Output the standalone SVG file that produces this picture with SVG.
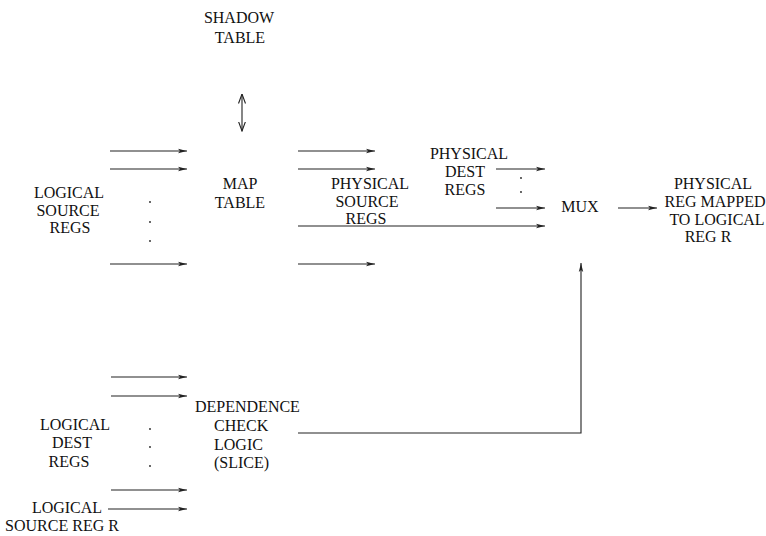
<svg xmlns="http://www.w3.org/2000/svg" width="766" height="536" viewBox="0 0 766 536">
  <style>
    text { font-family: "Liberation Serif", "Times New Roman", serif; font-size: 16px; fill: #111; }
    .c { text-anchor: middle; }
    .s { text-anchor: start; }
    .w { stroke: #222; stroke-width: 1.1; fill: none; }
    .dot { fill: #222; }
  </style>
  <defs>
    <marker id="ah" viewBox="0 0 9 6" refX="9" refY="3" markerWidth="9" markerHeight="6" orient="auto" markerUnits="userSpaceOnUse">
      <path d="M0,0.8 L9,3 L0,5.2 L2,3 z" fill="#222"/>
    </marker>
    <marker id="oh" viewBox="0 0 10 8" refX="9.5" refY="4" markerWidth="10" markerHeight="8" orient="auto-start-reverse" markerUnits="userSpaceOnUse">
      <path d="M0,0.5 L9.5,4 L0,7.5" fill="none" stroke="#222" stroke-width="1.1"/>
    </marker>
  </defs>

  <rect width="766" height="536" fill="#fff"/>

  <g id="shadow-table">
    <text class="c" x="239" y="23">SHADOW</text>
    <text class="c" x="240" y="43">TABLE</text>
  </g>

  <g id="logical-source-regs">
    <text class="c" x="69" y="198">LOGICAL</text>
    <text class="c" x="68" y="216">SOURCE</text>
    <text class="c" x="70" y="233">REGS</text>
    <circle class="dot" cx="150" cy="202" r="0.9"/>
    <circle class="dot" cx="150" cy="222" r="0.9"/>
    <circle class="dot" cx="150" cy="241" r="0.9"/>
  </g>

  <g id="map-table">
    <text class="c" x="240" y="189">MAP</text>
    <text class="c" x="240" y="208">TABLE</text>
  </g>

  <g id="physical-source-regs">
    <text class="c" x="370" y="189">PHYSICAL</text>
    <text class="c" x="367" y="207">SOURCE</text>
    <text class="c" x="366" y="224">REGS</text>
  </g>

  <g id="physical-dest-regs">
    <text class="c" x="469" y="159">PHYSICAL</text>
    <text class="c" x="465" y="177">DEST</text>
    <text class="c" x="465" y="195">REGS</text>
    <circle class="dot" cx="521" cy="178" r="0.9"/>
    <circle class="dot" cx="521" cy="192" r="0.9"/>
  </g>

  <g id="mux">
    <text class="c" x="580" y="212">MUX</text>
  </g>

  <g id="physical-reg-mapped">
    <text class="c" x="713" y="189">PHYSICAL</text>
    <text class="c" x="715" y="207">REG MAPPED</text>
    <text class="c" x="717" y="225">TO LOGICAL</text>
    <text class="c" x="708" y="242">REG R</text>
  </g>

  <g id="logical-dest-regs">
    <text class="c" x="75" y="430">LOGICAL</text>
    <text class="c" x="72" y="448">DEST</text>
    <text class="c" x="69" y="467">REGS</text>
    <circle class="dot" cx="150" cy="429" r="0.9"/>
    <circle class="dot" cx="150" cy="447" r="0.9"/>
    <circle class="dot" cx="150" cy="466" r="0.9"/>
  </g>

  <g id="dependence-check-logic">
    <text class="s" x="195" y="412">DEPENDENCE</text>
    <text class="s" x="214" y="431">CHECK</text>
    <text class="s" x="214" y="450">LOGIC</text>
    <text class="s" x="214" y="468">(SLICE)</text>
  </g>

  <g id="logical-source-reg-r">
    <text class="c" x="67" y="513">LOGICAL</text>
    <text class="c" x="62" y="531">SOURCE REG R</text>
  </g>

  <g id="connectors" class="w">
    <!-- shadow table <-> map table -->
    <line x1="242" y1="94" x2="242" y2="131" marker-start="url(#oh)" marker-end="url(#oh)"/>

    <!-- logical source regs into map table -->
    <line x1="110" y1="151" x2="187" y2="151" marker-end="url(#ah)"/>
    <line x1="110" y1="169" x2="187" y2="169" marker-end="url(#ah)"/>
    <line x1="110" y1="264" x2="187" y2="264" marker-end="url(#ah)"/>

    <!-- map table outputs -->
    <line x1="298" y1="151" x2="375" y2="151" marker-end="url(#ah)"/>
    <line x1="298" y1="169" x2="375" y2="169" marker-end="url(#ah)"/>
    <line x1="298" y1="264" x2="375" y2="264" marker-end="url(#ah)"/>
    <line x1="298" y1="226" x2="545" y2="226" marker-end="url(#ah)"/>

    <!-- physical dest regs into mux -->
    <line x1="496" y1="169" x2="545" y2="169" marker-end="url(#ah)"/>
    <line x1="496" y1="208" x2="545" y2="208" marker-end="url(#ah)"/>

    <!-- mux output -->
    <line x1="618" y1="208" x2="657" y2="208" marker-end="url(#ah)"/>

    <!-- logical dest regs into dependence check logic -->
    <line x1="111" y1="377" x2="187" y2="377" marker-end="url(#ah)"/>
    <line x1="111" y1="396" x2="187" y2="396" marker-end="url(#ah)"/>
    <line x1="111" y1="490" x2="187" y2="490" marker-end="url(#ah)"/>
    <line x1="108" y1="509" x2="187" y2="509" marker-end="url(#ah)"/>

    <!-- dependence check logic to mux select -->
    <polyline points="298,433 581,433 581,263" marker-end="url(#ah)"/>
  </g>
</svg>
